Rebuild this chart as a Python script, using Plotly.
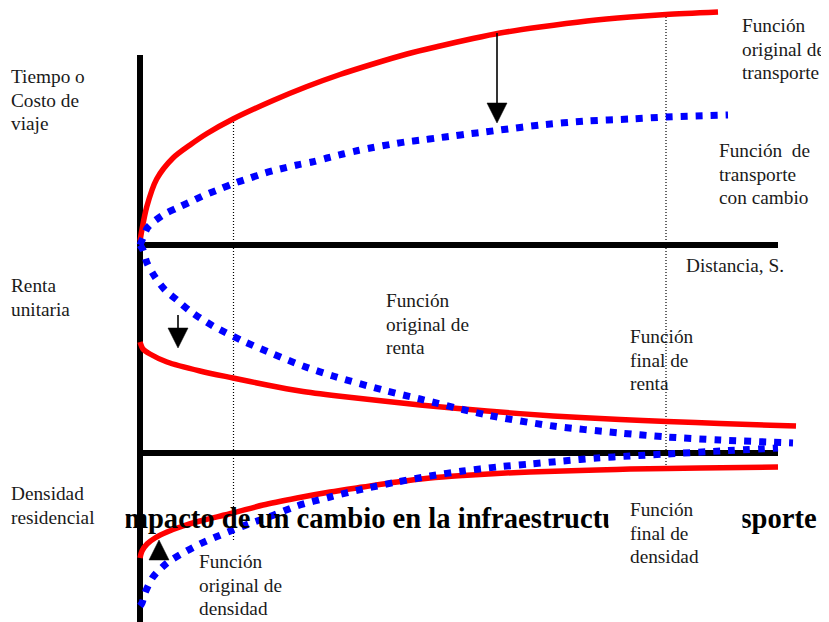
import plotly.graph_objects as go

# ---------------- data (x = distance, y = vertical position, downward) -------------
transport_orig_s = [140, 141.7, 146.7, 156.7, 173, 190, 207, 233, 273, 307, 340, 373, 407, 440, 473, 500, 540, 587, 630, 666, 718]
transport_orig_v = [241, 231, 207, 179, 158, 145, 133.5, 119, 100.5, 86.5, 74.5, 64, 54, 46, 38.5, 33, 27, 21, 17, 14.5, 12]

transport_new_s = [140, 143, 148, 163, 177, 190, 205, 220, 235, 250, 265, 280, 297, 312, 327, 343, 358, 373, 390, 405, 422, 437, 453, 468, 485, 500, 540, 587, 630, 666, 728]
transport_new_v = [245, 238, 227, 215, 208, 202, 195, 189, 183, 178, 173, 169, 165, 162, 158, 154, 150.5, 147.5, 144.5, 142, 140, 138, 136, 134, 132, 130, 125, 121, 119, 117, 115]

rent_orig_s = [140, 143, 147, 155, 165, 177, 190, 213, 243, 273, 303, 333, 383, 420, 487, 553, 620, 667, 720, 793]
rent_orig_v = [245, 250, 263, 277, 290, 300, 311, 326, 341, 354, 366, 376, 390, 399, 415, 426, 433, 437, 440, 443]

rent_final_s = [140, 143, 150, 167, 200, 233, 267, 300, 338, 420, 487, 553, 620, 667, 720, 796]
rent_final_v = [342, 349, 354, 362, 371, 378, 385, 391, 396, 405, 411, 416, 419.5, 421.5, 423.5, 426]

density_final_s = [140, 142, 147, 155, 167, 183, 200, 233, 263, 297, 330, 363, 397, 430, 463, 497, 530, 563, 597, 630, 700, 778]
density_final_v = [558, 551, 544, 538, 532, 526, 521, 513, 505, 498, 492, 487, 482, 478, 475.5, 473.5, 472, 471, 470, 469, 468, 467]

density_orig_s = [140, 142, 145, 153, 167, 183, 200, 217, 233, 250, 270, 297, 330, 363, 397, 430, 463, 497, 530, 563, 597, 630, 667, 720, 778]
density_orig_v = [606, 603, 593, 577, 563, 553, 544, 536.5, 530, 523.5, 516.5, 506, 497, 489, 482, 476, 471, 467, 464, 461, 458, 456, 454, 451, 448]

# frame: axis lines and guide lines
axis_vertical_s = [140, 140]
axis_vertical_v = [55, 622]
axis_transport_s = [140, 778]
axis_transport_v = [245, 245]
axis_rent_s = [140, 778]
axis_rent_v = [453, 453]
guide1_s = [233.5, 233.5]
guide1_v = [122, 540]
guide2_s = [666, 666]
guide2_v = [17, 468]

# arrows: position, tail, tip
arrow_s = [497, 178, 159]
arrow_tail = [33, 315, None]
arrow_tip = [123, 348, 540]

title_text = "Impacto de un cambio en la infraestructura de transporte"
label_lines = [
    ["Tiempo o", "Costo de", "viaje"],
    ["Renta", "unitaria"],
    ["Densidad", "residencial"],
    ["Función", "original de", "transporte"],
    ["Función\u00a0 de", "transporte", "con cambio"],
    ["Distancia, S."],
    ["Función", "original de", "renta"],
    ["Función", "final de", "renta"],
    ["Función", "original de", "densidad"],
    ["Función", "final de", "densidad"],
]
label_x = [10, 10, 10, 741, 718, 685, 385, 629, 198, 629]
label_baseline = [83, 292, 500, 32, 157, 272, 307, 343, 568, 516]
LINE_STEP = 23.7

# ---------------- figure -------------
RED = "#ff0000"
BLUE = "#0000ff"
FONT = "Liberation Serif"
LABEL_SIZE = 19.3
TITLE_SIZE = 28.6
PAGE_MARGIN = 8  # the html page body margin shifts the figure

fig = go.Figure()

def seg(xs, ys, color, width, dash=None):
    fig.add_trace(go.Scatter(x=xs, y=ys, mode="lines",
                             line=dict(color=color, width=width, dash=dash),
                             hoverinfo="skip", showlegend=False))

# guides
seg(guide1_s, guide1_v, "#000000", 1.2, "1px,2px")
seg(guide2_s, guide2_v, "#000000", 1.2, "1px,2px")
# axes
seg(axis_vertical_s, axis_vertical_v, "#000000", 6)
seg(axis_transport_s, axis_transport_v, "#000000", 6)
seg(axis_rent_s, axis_rent_v, "#000000", 6)

def curve(xs, ys, color, width, dash=None):
    fig.add_trace(go.Scatter(x=xs, y=ys, mode="lines",
                             line=dict(color=color, width=width, dash=dash,
                                       shape="spline", smoothing=0.8),
                             hoverinfo="skip", showlegend=False))

curve(transport_orig_s, transport_orig_v, RED, 5.5)
curve(rent_final_s, rent_final_v, RED, 5.5)
curve(density_final_s, density_final_v, RED, 5.5)
curve(transport_new_s, transport_new_v, BLUE, 7, "7px,8px")
curve(rent_orig_s, rent_orig_v, BLUE, 7, "7px,8px")
curve(density_orig_s, density_orig_v, BLUE, 7, "7px,8px")

# arrows
HEAD_LEN = 20
HEAD_HALF = 10
for s, tail, tip in zip(arrow_s, arrow_tail, arrow_tip):
    if tail is not None:
        d = 1 if tip > tail else -1
        seg([s, s], [tail, tip - d * HEAD_LEN + d], "#000000", 1.6)
        base = tip - d * HEAD_LEN
    else:
        base = tip + HEAD_LEN  # upward pointing head
    fig.add_trace(go.Scatter(x=[s - HEAD_HALF, s + HEAD_HALF, s, s - HEAD_HALF],
                             y=[base, base, tip, base], mode="lines",
                             fill="toself", fillcolor="#000000",
                             line=dict(color="#000000", width=0.5),
                             hoverinfo="skip", showlegend=False))

annotations = []
# title (partly hidden by label boxes)
annotations.append(dict(x=111, y=528 - 0.3375 * TITLE_SIZE, xref="x", yref="y",
                        xanchor="left", yanchor="middle",
                        text="<b>" + title_text + "</b>", showarrow=False,
                        font=dict(family=FONT, size=TITLE_SIZE, color="#000000")))
# white masks over the title
annotations.append(dict(x=96, y=496, xref="x", yref="y", xanchor="left", yanchor="top",
                        text=" ", width=27.5, height=46, bgcolor="#ffffff", borderpad=0,
                        showarrow=False, font=dict(size=10)))
annotations.append(dict(x=608, y=496, xref="x", yref="y", xanchor="left", yanchor="top",
                        text=" ", width=133, height=50, bgcolor="#ffffff", borderpad=0,
                        showarrow=False, font=dict(size=10)))
for lines, x, b in zip(label_lines, label_x, label_baseline):
    for i, line in enumerate(lines):
        annotations.append(dict(x=x - 1, y=b + i * LINE_STEP - 0.3375 * LABEL_SIZE,
                                xref="x", yref="y", xanchor="left", yanchor="middle",
                                text=line, align="left", showarrow=False,
                                font=dict(family=FONT, size=LABEL_SIZE, color="#1a1a1a")))

fig.update_layout(
    width=829 - PAGE_MARGIN, height=622 - PAGE_MARGIN,
    margin=dict(l=0, r=0, t=0, b=0),
    paper_bgcolor="#ffffff", plot_bgcolor="#ffffff",
    xaxis=dict(range=[PAGE_MARGIN, 829], visible=False, fixedrange=True),
    yaxis=dict(range=[622, PAGE_MARGIN], visible=False, fixedrange=True),
    annotations=annotations,
    showlegend=False,
)

fig.write_html("out.html")
